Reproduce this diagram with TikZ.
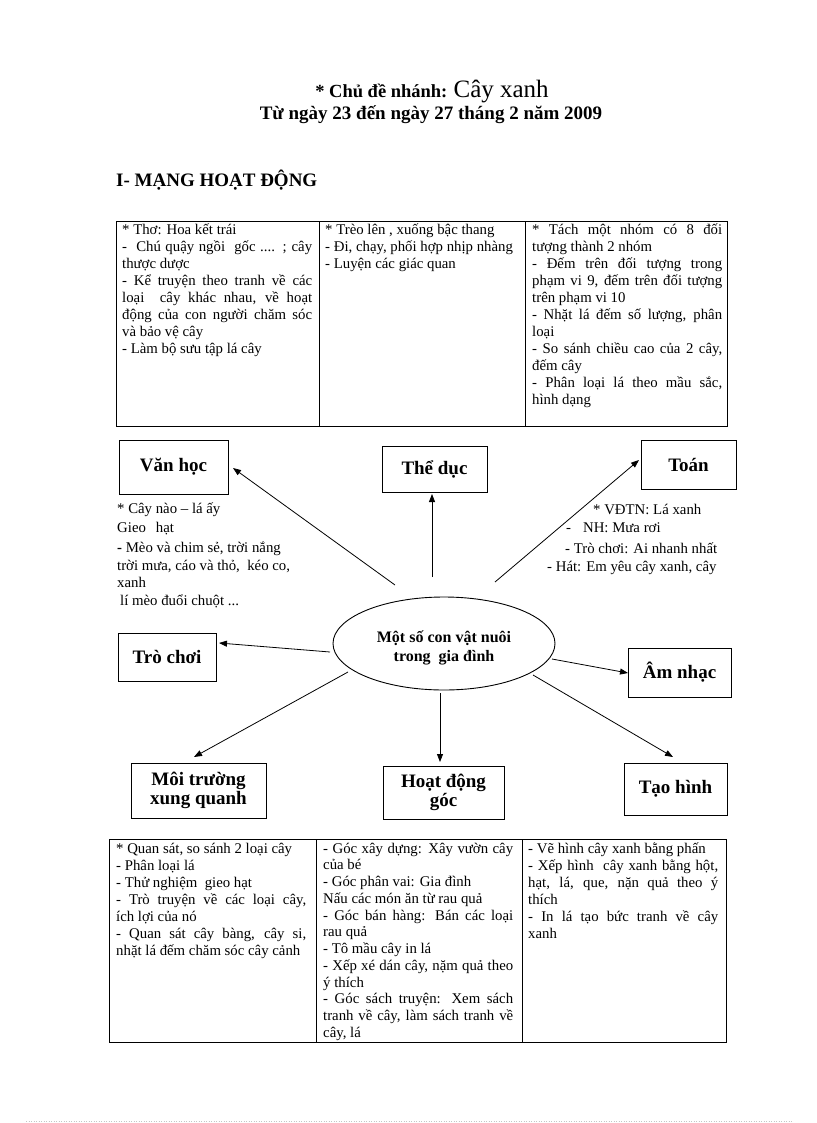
\documentclass[tikz,border=0pt]{standalone}
\usepackage{fontspec}
\setmainfont{Liberation Serif}
\usetikzlibrary{arrows.meta,shapes.geometric}
\newcommand{\firstln}{\rule{0pt}{16pt}}
\begin{document}
\begin{tikzpicture}[x=1pt,y=-1pt,
  box/.style={draw, line width=0.9pt, inner sep=0pt, align=center,
    font=\bfseries\fontsize{19}{19}\selectfont},
  arr/.style={line width=0.8pt, -{Triangle[length=8pt,width=6pt]}},
  cell/.style={anchor=north west, inner sep=0pt, align=justify, text width=190pt,
    font=\fontsize{14.8}{17}\selectfont},
  note/.style={anchor=base west, inner sep=0pt, font=\fontsize{14.8}{17}\selectfont},
  tbl/.style={line width=1pt},
  head/.style={inner sep=0pt, font=\bfseries\fontsize{19}{21}\selectfont}
]
\useasboundingbox (0,0) rectangle (816,1123);
\fill[white] (0,0) rectangle (816,1123);

% titles
\node[head, anchor=base] (title1) at (432,98)
  {\fontsize{18.5}{20}\selectfont * Chủ đề nhánh: \mdseries\fontsize{25}{27}\selectfont Cây xanh};
\node[head, anchor=base] (title2) at (431,120) {Từ ngày 23 đến ngày 27 tháng 2 năm 2009};
\node[head, anchor=base west] (sec) at (116,187) {I- MẠNG HOẠT ĐỘNG};

% top table
\draw[tbl] (116,222) rectangle (727,426);
\draw[tbl] (319,222) -- (319,426);
\draw[tbl] (525,222) -- (525,426);

\node[cell] (t1) at (122,218) {\firstln * Thơ: Hoa kết trái\par
- \ Chú quậy ngồi\ \ gốc .... ; cây\linebreak thược dược\par
- Kể truyện theo tranh về các\linebreak loại\ \ cây khác nhau, về hoạt\linebreak động của con người chăm sóc\linebreak và bảo vệ cây\par
- Làm bộ sưu tập lá cây};

\node[cell] (t2) at (325,218) {\firstln * Trèo lên , xuống bậc thang\par
- Đi, chạy, phối hợp nhịp nhàng\par
- Luyện các giác quan};

\node[cell] (t3) at (532,218) {\firstln * Tách một nhóm có 8 đối\linebreak tượng thành 2 nhóm\par
- Đếm trên đối tượng trong\linebreak phạm vi 9, đếm trên đối tượng\linebreak trên phạm vi 10\par
- Nhặt lá đếm số lượng, phân\linebreak loại\par
- So sánh chiều cao của 2 cây,\linebreak đếm cây\par
- Phân loại lá theo mầu sắc,\linebreak hình dạng};

% boxes
\node[box, minimum width=109, minimum height=54] (vanhoc) at (173.5,467) {Văn học};
\node[box, minimum width=105, minimum height=46] (theduc) at (434.5,469) {Thể dục};
\node[box, minimum width=95, minimum height=49] (toan) at (688.5,464.5) {Toán};
\node[box, minimum width=98, minimum height=48] (trochoi) at (167,657) {Trò chơi};
\node[box, minimum width=103, minimum height=49] (amnhac) at (679.5,672.5) {Âm nhạc};
\node[box, minimum width=135, minimum height=55] (moitruong) at (198.5,790.5) {Môi trường\\xung quanh};
\node[box, minimum width=121, minimum height=53] (hoatdong) at (443.5,792.5) {Hoạt động\\góc};
\node[box, minimum width=103, minimum height=52] (taohinh) at (675.5,789) {Tạo hình};

% centre ellipse
\node[draw, ellipse, line width=0.9pt, minimum width=222, minimum height=93, inner sep=0pt,
  align=center, font=\bfseries\fontsize{16}{18.5}\selectfont] (centre) at (444,643.5)
  {\rule{0pt}{21pt}Một số con vật nuôi\\trong\ \ gia đình};

% notes
\node[note] (vn1) at (117,513) {* Cây nào – lá ấy};
\node[note] (vn2) at (117,532) {Gieo\hspace{10pt}hạt};
\node[note] (vn3) at (117,552) {\textbf{-} Mèo và chim sẻ, trời nắng};
\node[note] (vn4) at (117,570) {trời mưa, cáo và thỏ,\ \ kéo co,};
\node[note] (vn5) at (117,587) {xanh};
\node[note] (vn6) at (120,605) {lí mèo đuổi chuột ...};

\node[note] (tn1) at (593,514) {* VĐTN: Lá xanh};
\node[note] (tn2) at (566,532) {-\hspace{12pt}NH: Mưa rơi};
\node[note] (tn3) at (565,553) {- Trò chơi: Ai nhanh nhất};
\node[note] (tn4) at (547,571) {- Hát: Em yêu cây xanh, cây};

% arrow end points
\coordinate (s1) at (395,585);  \coordinate (e1) at (233,468);
\coordinate (s2) at (432,577);  \coordinate (e2) at (432,494);
\coordinate (s3) at (495,582);  \coordinate (e3) at (639,460);
\coordinate (s4) at (330,652);  \coordinate (e4) at (219,643);
\coordinate (s5) at (552,659);  \coordinate (e5) at (628,673);
\coordinate (s6) at (348,672);  \coordinate (e6) at (194,757);
\coordinate (s7) at (440,693);  \coordinate (e7) at (440,762);
\coordinate (s8) at (533,675);  \coordinate (e8) at (673,757);
\draw[arr] (s1) -- (e1);
\draw[arr] (s2) -- (e2);
\draw[arr] (s3) -- (e3);
\draw[arr] (s4) -- (e4);
\draw[arr] (s5) -- (e5);
\draw[arr] (s6) -- (e6);
\draw[arr] (s7) -- (e7);
\draw[arr] (s8) -- (e8);

% bottom table
\draw[tbl] (109,839) rectangle (726,1042);
\draw[tbl] (316,839) -- (316,1042);
\draw[tbl] (522,839) -- (522,1042);

\node[cell] (b1) at (116,837) {\firstln * Quan sát, so sánh 2 loại cây\par
- Phân loại\ lá\par
- Thử nghiệm\ \ gieo hạt\par
- Trò truyện về các loại cây,\linebreak ích lợi của nó\par
- Quan sát cây bàng, cây si,\linebreak nhặt lá đếm chăm sóc cây cảnh};

\node[cell, font=\fontsize{14.8}{16.75}\selectfont] (b2) at (323,837) {\firstln - Góc xây dựng: Xây vườn cây\linebreak của bé\par
- Góc phân vai: Gia đình\par
Nấu các món ăn từ rau quả\par
- Góc bán hàng: Bán các loại\linebreak rau quả\par
- Tô mầu cây in lá\par
- Xếp xé dán cây, nặm quả theo\linebreak ý thích\par
- Góc sách truyện: Xem sách\linebreak tranh về cây, làm sách tranh về\linebreak cây, lá};

\node[cell] (b3) at (528,837) {\firstln - Vẽ hình cây xanh bằng phấn\par
- Xếp hình\ \ cây xanh bằng hột,\linebreak hạt, lá, que, nặn quả theo ý\linebreak thích\par
- In lá tạo bức tranh về cây\linebreak xanh};

% faint page edge
\draw[gray!45, dotted, line width=0.5pt] (26,1121) -- (792,1121);
\end{tikzpicture}
\end{document}
